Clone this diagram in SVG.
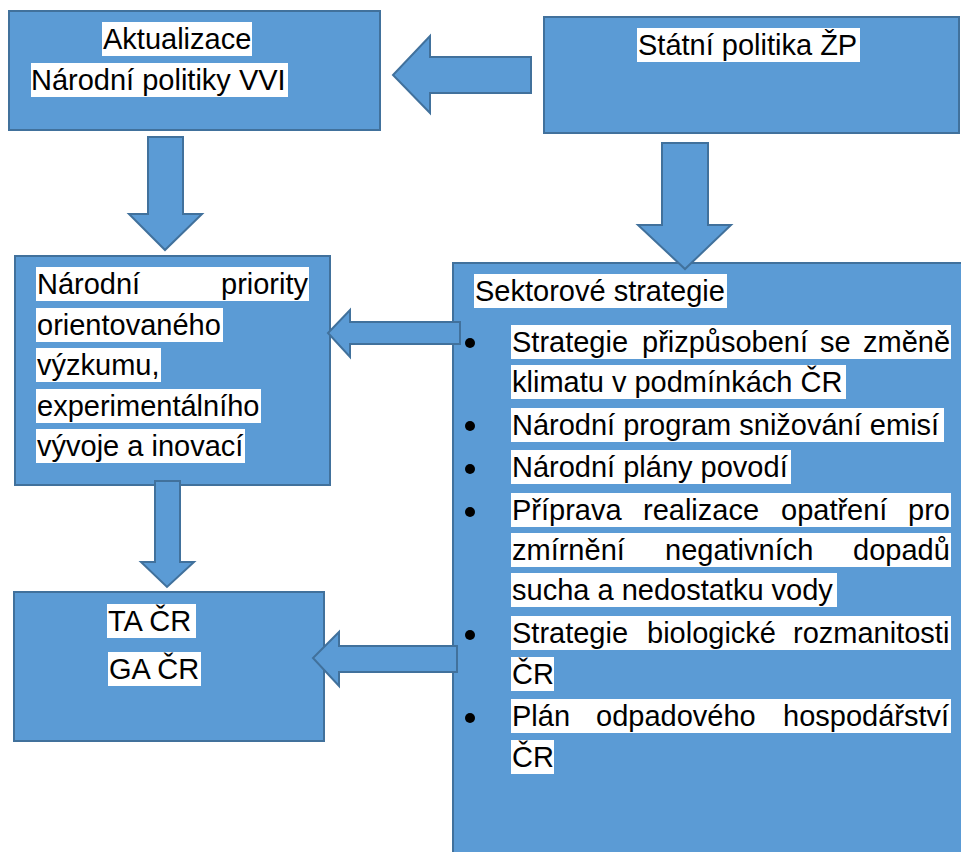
<svg xmlns="http://www.w3.org/2000/svg" width="961" height="852" viewBox="0 0 961 852">
<style>
.box{fill:#5B9BD5;stroke:#41719C;stroke-width:2}
.arr{fill:#5B9BD5;stroke:#41719C;stroke-width:2;stroke-linejoin:miter}
.bg{fill:#FFFFFF}
.t{font-family:"Liberation Sans",Arial,sans-serif;font-size:29px;fill:#000000}
.dot{fill:#000000}
</style>
<rect width="961" height="852" fill="#FFFFFF"/>
<g id="node-aktualizace">
<rect class="box" x="9" y="11" width="371" height="119"/>
<rect class="bg" x="102" y="22" width="150" height="34"/>
<text class="t" x="103" y="49">Aktualizace</text>
<rect class="bg" x="31" y="63" width="257" height="34"/>
<text class="t" x="31" y="90">Národní politiky VVI</text>
</g>
<g id="node-statni">
<rect class="box" x="544" y="17" width="415" height="116"/>
<rect class="bg" x="637" y="28" width="223" height="34"/>
<text class="t" x="638" y="55">Státní politika ŽP</text>
</g>
<g id="node-priority">
<rect class="box" x="15" y="256" width="315" height="229"/>
<rect class="bg" x="36" y="267" width="273" height="34"/>
<text class="t" y="294"><tspan x="37">Národní</tspan><tspan x="221">priority</tspan></text>
<rect class="bg" x="36" y="308" width="187" height="34"/>
<text class="t" x="37" y="335">orientovaného</text>
<rect class="bg" x="36" y="348" width="125" height="34"/>
<text class="t" x="37" y="375">výzkumu,</text>
<rect class="bg" x="36" y="389" width="225" height="34"/>
<text class="t" x="37" y="416">experimentálního</text>
<rect class="bg" x="36" y="429" width="209" height="34"/>
<text class="t" x="37" y="456">vývoje a inovací</text>
</g>
<g id="node-sektorove">
<rect class="box" x="453" y="263" width="520" height="600"/>
<rect class="bg" x="474" y="274" width="253" height="34"/>
<text class="t" x="475" y="301">Sektorové strategie</text>
<circle class="dot" cx="470" cy="343" r="5"/>
<circle class="dot" cx="470" cy="426" r="5"/>
<circle class="dot" cx="470" cy="469" r="5"/>
<circle class="dot" cx="470" cy="512" r="5"/>
<circle class="dot" cx="470" cy="635" r="5"/>
<circle class="dot" cx="470" cy="718" r="5"/>
<rect class="bg" x="511" y="325" width="440" height="34"/>
<text class="t" y="352"><tspan x="512">Strategie</tspan><tspan x="642">přizpůsobení</tspan><tspan x="820">se</tspan><tspan x="863">změně</tspan></text>
<rect class="bg" x="511" y="365" width="335" height="34"/>
<text class="t" x="512" y="392">klimatu v podmínkách ČR</text>
<rect class="bg" x="511" y="408" width="433" height="34"/>
<text class="t" x="512" y="435">Národní program snižování emisí</text>
<rect class="bg" x="511" y="450" width="280" height="34"/>
<text class="t" x="512" y="477">Národní plány povodí</text>
<rect class="bg" x="511" y="493" width="440" height="34"/>
<text class="t" y="520"><tspan x="512">Příprava</tspan><tspan x="643">realizace</tspan><tspan x="781">opatření</tspan><tspan x="908">pro</tspan></text>
<rect class="bg" x="511" y="533" width="440" height="34"/>
<text class="t" y="560"><tspan x="512">zmírnění</tspan><tspan x="665">negativních</tspan><tspan x="853">dopadů</tspan></text>
<rect class="bg" x="511" y="573" width="326" height="34"/>
<text class="t" x="512" y="600">sucha a nedostatku vody</text>
<rect class="bg" x="511" y="616" width="440" height="34"/>
<text class="t" y="643"><tspan x="512">Strategie</tspan><tspan x="647">biologické</tspan><tspan x="793">rozmanitosti</tspan></text>
<rect class="bg" x="511" y="657" width="43" height="34"/>
<text class="t" x="512" y="684">ČR</text>
<rect class="bg" x="511" y="699" width="440" height="34"/>
<text class="t" y="726"><tspan x="512">Plán</tspan><tspan x="596">odpadového</tspan><tspan x="783">hospodářství</tspan></text>
<rect class="bg" x="511" y="740" width="43" height="34"/>
<text class="t" x="512" y="767">ČR</text>
</g>
<g id="node-tacr">
<rect class="box" x="14" y="592" width="310" height="149"/>
<rect class="bg" x="107" y="604" width="89" height="34"/>
<text class="t" x="108" y="631">TA ČR</text>
<rect class="bg" x="108" y="652" width="93" height="34"/>
<text class="t" x="109" y="679">GA ČR</text>
</g>
<g id="connectors">
<polygon class="arr" points="531,57 430,57 430,36 393,75 430,113 430,93 531,93"/>
<polygon class="arr" points="148,137 183,137 183,214 202,214 165,250 129,214 148,214"/>
<polygon class="arr" points="662,143 708,143 708,225 731,225 685,269 638,225 662,225"/>
<polygon class="arr" points="460,322 350,322 350,310 328,333 350,357 350,344 460,344"/>
<polygon class="arr" points="155,481 180,481 180,562 194,562 167,587 141,562 155,562"/>
<polygon class="arr" points="457,646 339,646 339,632 313,658 339,686 339,672 457,672"/>
</g>
</svg>
